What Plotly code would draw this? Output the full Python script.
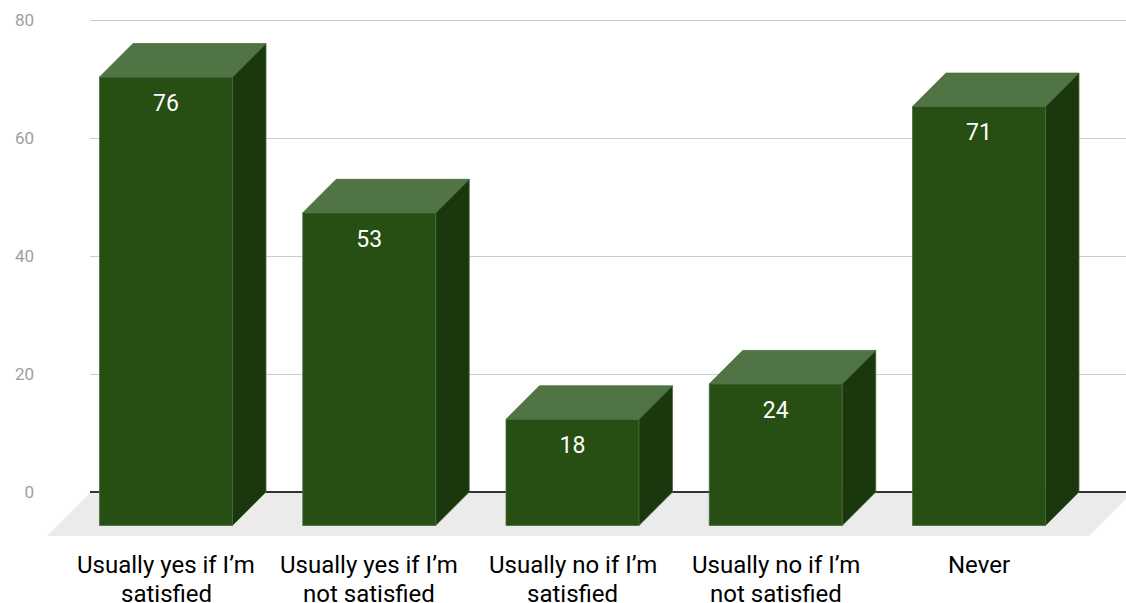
import plotly.graph_objects as go

# ---- data ----
categories = [
    "Usually yes if I’m<br>satisfied",
    "Usually yes if I’m<br>not satisfied",
    "Usually no if I’m<br>satisfied",
    "Usually no if I’m<br>not satisfied",
    "Never",
]
values = [76, 53, 18, 24, 71]
y_ticks = [0, 20, 40, 60, 80]

# ---- geometry (pixel scale of the 3-D look) ----
W, H = 1126, 603
PX_PER_CAT = 203.25          # horizontal pixels per category step
PX_PER_UNIT = 5.9            # vertical pixels per value unit
ZERO_PX = 492                # pixel row of the zero line (back plane)
FIRST_PX = 166               # pixel column of the first front face centre
PLOT_BOTTOM_PX = 545
GRID_LEFT_PX = 90
DEPTH_PX = 33.5              # 45-degree extrusion depth
BAR_W = 133 / PX_PER_CAT
FLOOR_DEPTH_PX = 44
FLOOR_LEFT_PX, FLOOR_RIGHT_PX = 47, 1089
LABEL_ROWS_PX = [565, 594]   # centre rows of the two category label lines

dxu = DEPTH_PX / PX_PER_CAT
dyu = DEPTH_PX / PX_PER_UNIT
hw = BAR_W / 2

x_range = [-FIRST_PX / PX_PER_CAT, (W - FIRST_PX) / PX_PER_CAT]
y_range = [(ZERO_PX - PLOT_BOTTOM_PX) / PX_PER_UNIT, ZERO_PX / PX_PER_UNIT]
y_domain = [1 - PLOT_BOTTOM_PX / H, 1]

FRONT = "#274e13"
TOP = "#517444"
SIDE = "#1b370e"
EDGE = "#4a6d3c"
FLOOR = "#ebebeb"

xs = list(range(len(values)))

fig = go.Figure()

# floor (own subplot, drawn first)
fl0 = (FLOOR_LEFT_PX - FIRST_PX) / PX_PER_CAT
fr0 = (FLOOR_RIGHT_PX - FIRST_PX) / PX_PER_CAT
fdx = FLOOR_DEPTH_PX / PX_PER_CAT
fdy = FLOOR_DEPTH_PX / PX_PER_UNIT
fig.add_trace(go.Scatter(
    x=[fl0, fl0 + fdx, fr0 + fdx, fr0, fl0],
    y=[-fdy, 0, 0, -fdy, -fdy],
    fill="toself", fillcolor=FLOOR, mode="lines", line=dict(width=0),
    hoverinfo="skip", showlegend=False, xaxis="x", yaxis="y",
))

# invisible trace so the grid subplot is created
fig.add_trace(go.Scatter(x=[0], y=[0], mode="markers", marker=dict(opacity=0),
                         hoverinfo="skip", showlegend=False, xaxis="x2", yaxis="y2"))

# front faces
fig.add_trace(go.Bar(
    x=xs, y=values, base=[-dyu] * len(values), width=BAR_W,
    marker=dict(color=FRONT, line=dict(color=EDGE, width=0.8)),
    hoverinfo="skip", showlegend=False, xaxis="x3", yaxis="y3",
))

# top faces
tx, ty = [], []
for k, v in zip(xs, values):
    tx += [k - hw, k + hw, k + hw + dxu, k - hw + dxu, k - hw, None]
    ty += [v - dyu, v - dyu, v, v, v - dyu, None]
fig.add_trace(go.Scatter(
    x=tx, y=ty, fill="toself", fillcolor=TOP, mode="lines",
    line=dict(color=EDGE, width=0.8),
    hoverinfo="skip", showlegend=False, xaxis="x3", yaxis="y3",
))

# side faces
sx, sy = [], []
for k, v in zip(xs, values):
    sx += [k + hw, k + hw + dxu, k + hw + dxu, k + hw, k + hw, None]
    sy += [-dyu, 0, v, v - dyu, -dyu, None]
fig.add_trace(go.Scatter(
    x=sx, y=sy, fill="toself", fillcolor=SIDE, mode="lines",
    line=dict(color=EDGE, width=0.8),
    hoverinfo="skip", showlegend=False, xaxis="x3", yaxis="y3",
))

# value labels inside the front faces
LABEL_DROP = 28 / PX_PER_UNIT
fig.add_trace(go.Scatter(
    x=xs, y=[v - dyu - LABEL_DROP for v in values],
    mode="text", text=[str(v) for v in values], textposition="middle center",
    textfont=dict(family="Roboto", size=23, color="#ffffff"),
    hoverinfo="skip", showlegend=False, xaxis="x3", yaxis="y3",
))

# category labels under the front faces, one annotation per text line
annotations = []
for k, label in zip(xs, categories):
    for row, line in enumerate(label.split("<br>")):
        annotations.append(dict(
            x=k, xref="x3", y=1 - LABEL_ROWS_PX[row] / H, yref="paper",
            text=line, showarrow=False, xanchor="center", yanchor="middle",
            font=dict(family="Roboto", size=24, color="#000000"),
        ))

hidden = dict(visible=False, fixedrange=True)
fig.update_layout(
    template="none",
    width=W, height=H,
    margin=dict(l=0, r=0, t=0, b=0),
    paper_bgcolor="#ffffff", plot_bgcolor="rgba(0,0,0,0)",
    showlegend=False,
    annotations=annotations,
    xaxis=dict(domain=[0, 1], range=x_range, **hidden),
    yaxis=dict(domain=y_domain, range=y_range, **hidden),
    xaxis2=dict(domain=[GRID_LEFT_PX / W, 1], range=[0, 1], anchor="y2", **hidden),
    yaxis2=dict(
        domain=y_domain, range=y_range, anchor="x2",
        tickvals=y_ticks, ticktext=[str(t) for t in y_ticks],
        showgrid=True, gridcolor="#cccccc", gridwidth=1,
        zeroline=True, zerolinecolor="#333333", zerolinewidth=1.5,
        showline=False, ticks="", ticklabelstandoff=55,
        tickfont=dict(family="Roboto", size=17, color="#9e9e9e"),
        automargin=False, fixedrange=True,
    ),
    xaxis3=dict(domain=[0, 1], range=x_range, anchor="y3", **hidden),
    yaxis3=dict(domain=y_domain, range=y_range, anchor="x3", **hidden),
)

fig.write_html("out.html")
